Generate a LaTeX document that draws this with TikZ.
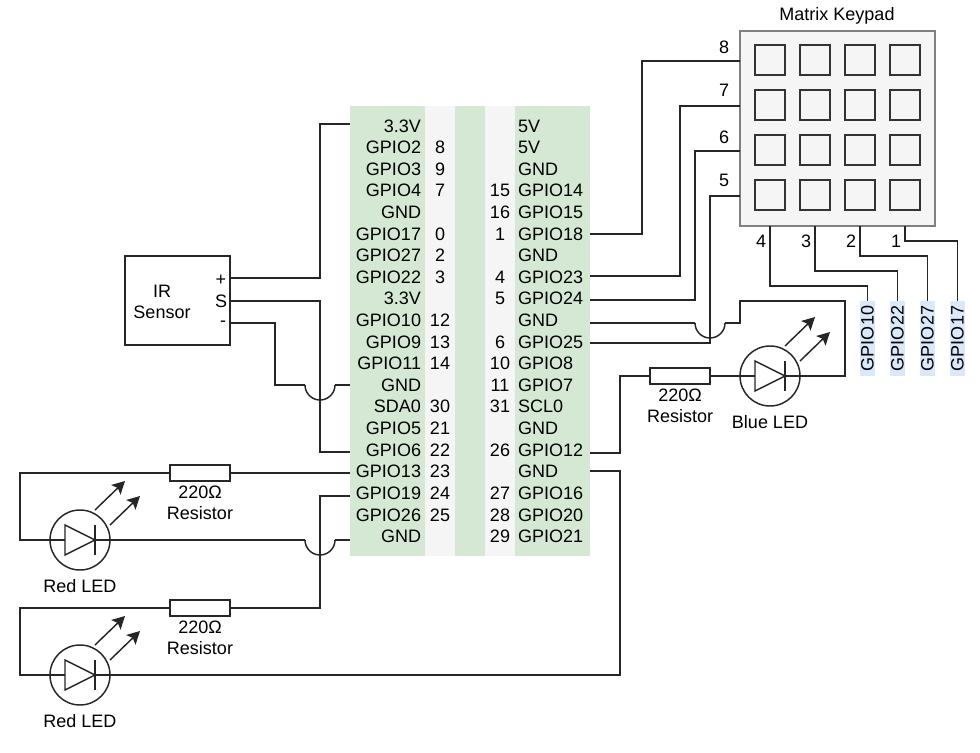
\documentclass[tikz,border=0pt]{standalone}
\usepackage{fontspec}
\setmainfont{Liberation Sans}
\usetikzlibrary{arrows.meta,positioning}
\definecolor{boardgreen}{HTML}{D5E8D4}
\definecolor{boardgrey}{HTML}{F5F5F5}
\definecolor{pinblue}{HTML}{DAE8FC}
\definecolor{keyrim}{HTML}{808080}
\definecolor{keyline}{HTML}{333333}
\newcommand{\lbl}{\fontsize{13.5}{15.75}\selectfont}
\newcommand{\hop}{arc[start angle=180,end angle=360,radius=11.25pt]}
\tikzset{
  wire/.style={line width=1.1pt,draw=black!85},
  txt/.style={font=\lbl,inner sep=0pt,outer sep=0pt,align=center},
  pinleft/.style={txt,anchor=east},
  pinright/.style={txt,anchor=west},
  resistor/.style={rectangle,draw=black!85,line width=1.1pt,fill=white,minimum width=45pt,minimum height=12pt,inner sep=0pt},
  ledring/.style={circle,draw=black!85,line width=1.1pt,minimum size=45pt,inner sep=0pt},
  ledray/.style={-{Stealth[length=9.5pt,width=10pt,inset=2pt]},line width=1.1pt,draw=black!85},
  sensorbox/.style={rectangle,draw=black!85,line width=1.1pt,minimum width=78.75pt,minimum height=66.75pt,inner sep=0pt},
  keypadbox/.style={rectangle,draw=keyrim,fill=boardgrey,line width=1.1pt,minimum width=146.25pt,minimum height=146.25pt,inner sep=0pt},
  keybtn/.style={rectangle,draw=keyline,line width=1.2pt,minimum size=22.5pt,inner sep=0pt},
  gpiotag/.style={txt,fill=pinblue,rotate=90,minimum width=56.25pt,minimum height=11.25pt}
}
% triangle, bar and the two rays of one led
\newcommand{\ledbody}[1]{
  \coordinate (#1an) at ([shift={(-15,0)}]#1.center);
  \coordinate (#1ca) at ([shift={(15,0)}]#1.center);
  \draw[line width=1.1pt,draw=black!85] ([shift={(-15,-15)}]#1.center) -- ([shift={(-15,15)}]#1.center) -- (#1ca) -- cycle;
  \draw[line width=1.1pt,draw=black!85] ([shift={(15,-15)}]#1.center) -- ([shift={(15,15)}]#1.center);
  \draw[ledray] ([shift={(15,-30)}]#1.center) -- ([shift={(45,-59)}]#1.center);
  \draw[ledray] ([shift={(30,-15)}]#1.center) -- ([shift={(60,-44)}]#1.center);
}
\begin{document}
\begin{tikzpicture}[x=0.75pt,y=-0.75pt]
  \useasboundingbox (0,0) rectangle (980,752);

  % board stripes
  \fill[boardgreen] (350,106) rectangle (425,556);
  \fill[boardgrey] (425,106) rectangle (455,556);
  \fill[boardgreen] (455,106) rectangle (485,556);
  \fill[boardgrey] (485,106) rectangle (515,556);
  \fill[boardgreen] (515,106) rectangle (590,556);

  \foreach \i/\lab in {0/3.3V,1/GPIO2,2/GPIO3,3/GPIO4,4/GND,5/GPIO17,6/GPIO27,7/GPIO22,8/3.3V,9/GPIO10,
    10/GPIO9,11/GPIO11,12/GND,13/SDA0,14/GPIO5,15/GPIO6,16/GPIO13,17/GPIO19,18/GPIO26,19/GND}
    \node[pinleft] (pl\i) at (421,{126+21.6*\i}) {\lab};
  \foreach \i/\lab in {0/5V,1/5V,2/GND,3/GPIO14,4/GPIO15,5/GPIO18,6/GND,7/GPIO23,8/GPIO24,9/GND,
    10/GPIO25,11/GPIO8,12/GPIO7,13/SCL0,14/GND,15/GPIO12,16/GND,17/GPIO16,18/GPIO20,19/GPIO21}
    \node[pinright] (pr\i) at (518,{126+21.6*\i}) {\lab};
  \foreach \i/\num in {1/8,2/9,3/7,5/0,6/2,7/3,9/12,10/13,11/14,13/30,14/21,15/22,16/23,17/24,18/25}
    \node[txt] (nl\i) at (440,{126+21.6*\i}) {\num};
  \foreach \i/\num in {3/15,4/16,5/1,7/4,8/5,10/6,11/10,12/11,13/31,15/26,17/27,18/28,19/29}
    \node[txt] (nr\i) at (500,{126+21.6*\i}) {\num};

  % wire ends on the board
  \coordinate (lvcc) at (350,124);
  \coordinate (lgndA) at (350,385);
  \coordinate (lsix) at (350,452);
  \coordinate (lthirteen) at (350,473);
  \coordinate (lnineteen) at (350,496);
  \coordinate (lgndB) at (350,540);
  \coordinate (reighteen) at (590,234);
  \coordinate (rtwentythree) at (590,276);
  \coordinate (rtwentyfour) at (590,300);
  \coordinate (rgndA) at (590,323);
  \coordinate (rtwentyfive) at (590,343);
  \coordinate (rtwelve) at (590,453);
  \coordinate (rgndB) at (590,471);

  % hops over a crossing wire
  \coordinate (hopA) at (305,385);
  \coordinate (hopB) at (305,540);
  \coordinate (hopC) at (695,323);
  \draw[wire] (hopA) \hop coordinate (hopAend);
  \draw[wire] (hopB) \hop coordinate (hopBend);
  \draw[wire] (hopC) \hop coordinate (hopCend);

  % ir sensor
  \node[sensorbox] (ir) at (177.5,300.5) {};
  \node[txt] (irtext) at (162,301.5) {IR\\Sensor};
  \node[txt] (irplus) at (221,280) {+};
  \node[txt] (irsig) at (221,301) {S};
  \node[txt] (irminus) at (223,324) {-};
  \coordinate (irp) at (230,278);
  \coordinate (irs) at (230,301);
  \coordinate (irm) at (230,323);
  \draw[wire] (irp) -- ++(90,0) |- (lvcc);
  \draw[wire] (irs) -- ++(90,0) |- (lsix);
  \draw[wire] (irm) -- ++(45,0) |- (hopA);
  \draw[wire] (hopAend) -- (lgndA);

  % red leds
  \node[ledring] (ledA) at (80,540) {};
  \node[ledring] (ledB) at (80,675) {};
  \ledbody{ledA}
  \ledbody{ledB}
  \node[txt,below=6.5pt of ledA] (ledAtext) {Red LED};
  \node[txt,below=6.5pt of ledB] (ledBtext) {Red LED};
  \node[resistor] (resA) at (200,473) {};
  \node[resistor] (resB) at (200,608) {};
  \node[txt,below=3.5pt of resA] (resAtext) {220Ω\\Resistor};
  \node[txt,below=3.5pt of resB] (resBtext) {220Ω\\Resistor};
  \draw[wire] (lthirteen) -- (resA);
  \draw[wire] (resA) -- ++(-180,0) |- (ledAan);
  \draw[wire] (ledAca) -- (hopB);
  \draw[wire] (hopBend) -- (lgndB);
  \draw[wire] (lnineteen) -- ++(-30,0) |- (resB);
  \draw[wire] (resB) -- ++(-180,0) |- (ledBan);
  \draw[wire] (rgndB) -- ++(30,0) |- (ledBca);

  % blue led
  \node[ledring] (ledC) at (770,376) {};
  \ledbody{ledC}
  \node[txt,below=6.5pt of ledC] (ledCtext) {Blue LED};
  \node[resistor] (resC) at (680,376) {};
  \node[txt,below=3.5pt of resC] (resCtext) {220Ω\\Resistor};
  \draw[wire] (rtwelve) -- ++(30,0) |- (resC);
  \draw[wire] (resC) -- (ledCan);
  \draw[wire] (rgndA) -- (hopC);
  \draw[wire] (hopCend) -- ++(15,0) -- ++(0,-22) -- ++(105,0) |- (ledCca);

  % keypad
  \node[keypadbox] (pad) at (837.5,128.5) {};
  \node[txt] (padtext) at (837,16) {Matrix Keypad};
  \foreach \r in {0,...,3}
    \foreach \c in {0,...,3}
      \node[keybtn] (k\r\c) at ({770+45*\c},{60+45*\r}) {};

  \foreach \n/\ypos/\ytext in {8/61/47,7/106/90,6/151/137,5/196/180}{
    \coordinate (row\n) at (740,\ypos);
    \node[txt] (rowtext\n) at (724,\ytext) {\n};
  }
  \foreach \n/\xpos in {4/770,3/815,2/860,1/905}{
    \coordinate (col\n) at (\xpos,226);
    \node[txt] (coltext\n) at ({\xpos-9},241) {\n};
  }
  \draw[wire] (row8) -- ++(-98,0) |- (reighteen);
  \draw[wire] (row7) -- ++(-60,0) |- (rtwentythree);
  \draw[wire] (row6) -- ++(-45,0) |- (rtwentyfour);
  \draw[wire] (row5) -- ++(-30,0) |- (rtwentyfive);

  \node[gpiotag] (tagA) at (867.5,338.5) {GPIO10};
  \node[gpiotag] (tagB) at (897.5,338.5) {GPIO22};
  \node[gpiotag] (tagC) at (927.5,338.5) {GPIO27};
  \node[gpiotag] (tagD) at (957.5,338.5) {GPIO17};
  \draw[wire] (col4) -- ++(0,60) -| (tagA.east);
  \draw[wire] (col3) -- ++(0,45) -| (tagB.east);
  \draw[wire] (col2) -- ++(0,30) -| (tagC.east);
  \draw[wire] (col1) -- ++(0,15) -| (tagD.east);
\end{tikzpicture}
\end{document}
